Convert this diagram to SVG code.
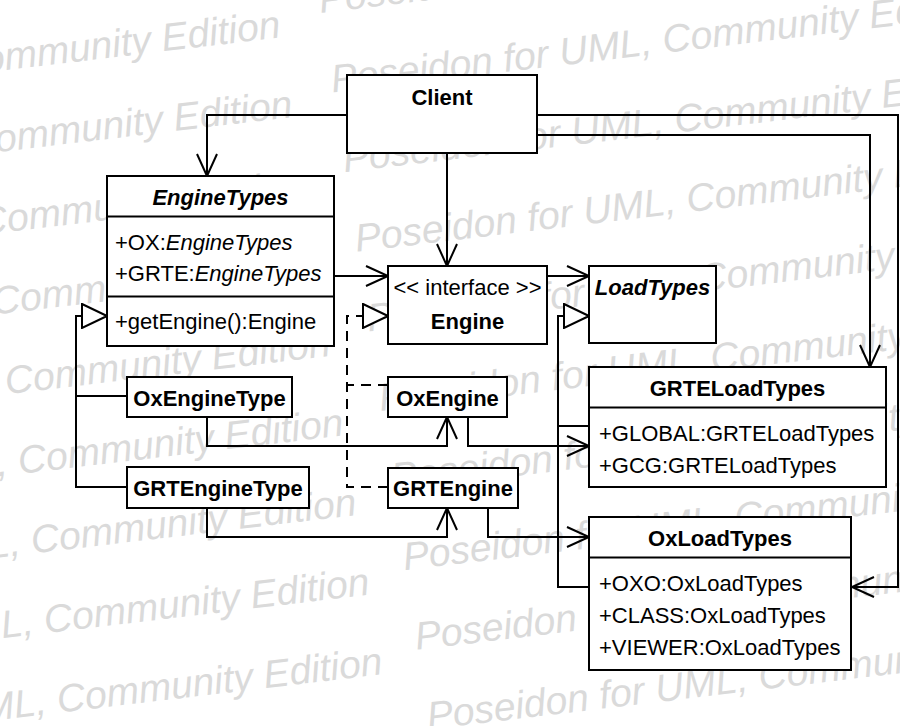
<svg xmlns="http://www.w3.org/2000/svg" width="900" height="726" viewBox="0 0 900 726">
  <defs>
    <style>
      .wm { font-family: "Liberation Sans", Arial, sans-serif; font-style: italic; font-size: 39px; fill: #dadada; }
      .box { fill: #ffffff; stroke: #000000; stroke-width: 2; }
      .sep { stroke: #000000; stroke-width: 2; }
      .t { font-family: "Liberation Sans", Arial, sans-serif; font-size: 22px; fill: #000000; }
      .b { font-weight: bold; }
      .i { font-style: italic; }
      .c { text-anchor: middle; }
      .ln { fill: none; stroke: #000000; stroke-width: 2; }
      .dash { stroke-dasharray: 10 7; }
    </style>
    <!-- open arrowhead for navigable associations -->
    <marker id="open" markerUnits="userSpaceOnUse" viewBox="0 0 26 22" markerWidth="26" markerHeight="22" refX="23" refY="11" orient="auto">
      <path d="M1,1 L23,11 L1,21" fill="none" stroke="#000000" stroke-width="2"/>
    </marker>
    <!-- hollow triangle for generalization / realization -->
    <marker id="tri" markerUnits="userSpaceOnUse" viewBox="0 0 28 26" markerWidth="28" markerHeight="26" refX="26" refY="13" orient="auto">
      <path d="M1,1 L26,13 L1,25 Z" fill="#ffffff" stroke="#000000" stroke-width="2" stroke-dasharray="none"/>
    </marker>
  </defs>

  <rect x="0" y="0" width="900" height="726" fill="#ffffff"/>

  <!-- background watermark: two staggered columns of tilted captions -->
  <g id="watermark">
    <text class="wm" transform="translate(-375,115.5) rotate(-6.8)">Poseidon for UML, Community Edition</text>
    <text class="wm" transform="translate(-363,195.1) rotate(-6.8)">Poseidon for UML, Community Edition</text>
    <text class="wm" transform="translate(-351,274.7) rotate(-6.8)">Poseidon for UML, Community Edition</text>
    <text class="wm" transform="translate(-338,354.3) rotate(-6.8)">Poseidon for UML, Community Edition</text>
    <text class="wm" transform="translate(-325,433.9) rotate(-6.8)">Poseidon for UML, Community Edition</text>
    <text class="wm" transform="translate(-312,513.5) rotate(-6.8)">Poseidon for UML, Community Edition</text>
    <text class="wm" transform="translate(-299,593.1) rotate(-6.8)">Poseidon for UML, Community Edition</text>
    <text class="wm" transform="translate(-286,672.7) rotate(-6.8)">Poseidon for UML, Community Edition</text>
    <text class="wm" transform="translate(-273,752.3) rotate(-6.8)">Poseidon for UML, Community Edition</text>
    <text class="wm" transform="translate(320.5,13) rotate(-6.8)">Poseidon for UML, Community Edition</text>
    <text class="wm" transform="translate(332.5,92.6) rotate(-6.8)">Poseidon for UML, Community Edition</text>
    <text class="wm" transform="translate(344.5,172.2) rotate(-6.8)">Poseidon for UML, Community Edition</text>
    <text class="wm" transform="translate(356.5,251.8) rotate(-6.8)">Poseidon for UML, Community Edition</text>
    <text class="wm" transform="translate(368.5,331.4) rotate(-6.8)">Poseidon for UML, Community Edition</text>
    <text class="wm" transform="translate(380.5,411) rotate(-6.8)">Poseidon for UML, Community Edition</text>
    <text class="wm" transform="translate(392.5,490.6) rotate(-6.8)">Poseidon for UML, Community Edition</text>
    <text class="wm" transform="translate(404.5,570.2) rotate(-6.8)">Poseidon for UML, Community Edition</text>
    <text class="wm" transform="translate(416.5,649.8) rotate(-6.8)">Poseidon for UML, Community Edition</text>
    <text class="wm" transform="translate(428.5,729.4) rotate(-6.8)">Poseidon for UML, Community Edition</text>
  </g>

  <!-- connectors -->
  <g id="connectors">
    <path class="ln" d="M347,115 H207 V176" marker-end="url(#open)"/>
    <path class="ln" d="M447,153 V266" marker-end="url(#open)"/>
    <path class="ln" d="M537,135 H870 V367" marker-end="url(#open)"/>
    <path class="ln" d="M537,115 H898 V587 H852" marker-end="url(#open)"/>
    <path class="ln" d="M334,276 H388" marker-end="url(#open)"/>
    <path class="ln" d="M547,276 H589" marker-end="url(#open)"/>
    <path class="ln" d="M207,417 V446 H447 V417" marker-end="url(#open)"/>
    <path class="ln" d="M207,508 V537 H447 V508" marker-end="url(#open)"/>
    <path class="ln" d="M468,417 V446 H589" marker-end="url(#open)"/>
    <path class="ln" d="M488,508 V537 H589" marker-end="url(#open)"/>
    <!-- generalizations -->
    <path class="ln" d="M127,396 H76"/>
    <path class="ln" d="M127,487 H76 V316 H107" marker-end="url(#tri)"/>
    <path class="ln" d="M589,426 H558"/>
    <path class="ln" d="M589,587 H558 V316 H589" marker-end="url(#tri)"/>
    <!-- realizations -->
    <path class="ln dash" d="M388,385 H347"/>
    <path class="ln dash" d="M388,487 H347 V316 H388" marker-end="url(#tri)"/>
  </g>

  <g id="client">
    <rect class="box" x="347" y="75" width="190" height="78"/>
    <text class="t b c" x="442" y="105">Client</text>
  </g>

  <g id="engine-types">
    <rect class="box" x="107" y="176" width="227" height="170"/>
    <line class="sep" x1="107" y1="216.5" x2="334" y2="216.5"/>
    <line class="sep" x1="107" y1="296.5" x2="334" y2="296.5"/>
    <text class="t b i c" x="220.5" y="205">EngineTypes</text>
    <text class="t" x="115" y="250">+OX:<tspan class="i">EngineTypes</tspan></text>
    <text class="t" x="115" y="281">+GRTE:<tspan class="i">EngineTypes</tspan></text>
    <text class="t" x="115" y="329">+getEngine():Engine</text>
  </g>

  <g id="engine">
    <rect class="box" x="388" y="266" width="159" height="78"/>
    <text class="t c" x="467.5" y="295">&lt;&lt; interface &gt;&gt;</text>
    <text class="t b c" x="467.5" y="329">Engine</text>
  </g>

  <g id="load-types">
    <rect class="box" x="589" y="266" width="127" height="77"/>
    <text class="t b i c" x="652.5" y="295">LoadTypes</text>
  </g>

  <g id="ox-engine-type">
    <rect class="box" x="127" y="377" width="165" height="40"/>
    <text class="t b c" x="209.5" y="406">OxEngineType</text>
  </g>

  <g id="grt-engine-type">
    <rect class="box" x="127" y="467" width="182" height="41"/>
    <text class="t b c" x="218" y="496">GRTEngineType</text>
  </g>

  <g id="ox-engine">
    <rect class="box" x="388" y="377" width="119" height="40"/>
    <text class="t b c" x="447.5" y="406">OxEngine</text>
  </g>

  <g id="grt-engine">
    <rect class="box" x="388" y="468" width="130" height="40"/>
    <text class="t b c" x="453" y="496">GRTEngine</text>
  </g>

  <g id="grte-load-types">
    <rect class="box" x="589" y="367" width="297" height="120"/>
    <line class="sep" x1="589" y1="407.5" x2="886" y2="407.5"/>
    <text class="t b c" x="737.5" y="396">GRTELoadTypes</text>
    <text class="t" x="599" y="441">+GLOBAL:GRTELoadTypes</text>
    <text class="t" x="599" y="473">+GCG:GRTELoadTypes</text>
  </g>

  <g id="ox-load-types">
    <rect class="box" x="589" y="517" width="262" height="153"/>
    <line class="sep" x1="589" y1="557.5" x2="851" y2="557.5"/>
    <text class="t b c" x="720" y="546">OxLoadTypes</text>
    <text class="t" x="599" y="591">+OXO:OxLoadTypes</text>
    <text class="t" x="599" y="623">+CLASS:OxLoadTypes</text>
    <text class="t" x="599" y="655">+VIEWER:OxLoadTypes</text>
  </g>
</svg>
